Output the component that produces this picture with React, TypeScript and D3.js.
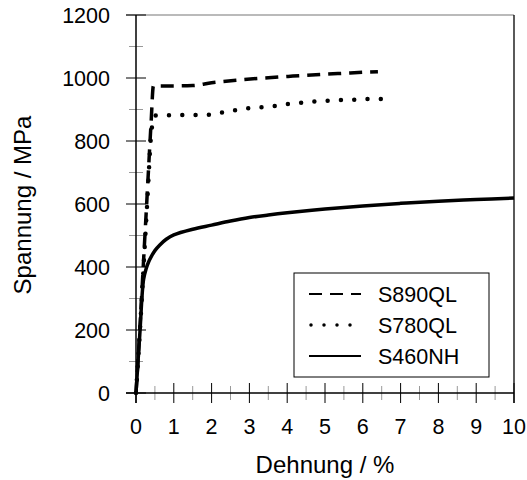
import React from "react";
import * as d3 from "d3";

const xTicks = [0, 1, 2, 3, 4, 5, 6, 7, 8, 9, 10];
const yTicks = [0, 200, 400, 600, 800, 1000, 1200];

const s890Strain = [0, 0.1, 0.2, 0.3, 0.4, 0.46, 1.0, 1.5, 2.0, 2.75, 3.5, 4.15, 5.0, 5.5, 6.0, 6.4];
const s890Stress = [0, 200, 420, 640, 860, 975, 975, 976, 985, 994, 1001, 1006, 1012, 1015, 1018, 1020];

const s780Strain = [0, 0.1, 0.2, 0.3, 0.4, 0.45, 0.5, 1.0, 1.9, 2.27, 2.62, 2.96, 3.32, 3.65, 4.0, 4.34, 4.7, 5.08, 5.43, 5.8, 6.1, 6.48];
const s780Stress = [0, 190, 400, 610, 820, 865, 881, 882, 883, 890, 898, 904, 907, 911, 917, 921, 925, 928, 930, 931, 933, 933];

const s460Strain = [0, 0.1, 0.2, 0.27, 0.33, 0.4, 0.5, 0.63, 0.8, 1.0, 1.5, 2.0, 2.5, 3.0, 3.5, 4.0, 5.0, 6.0, 7.0, 8.0, 9.0, 10.0];
const s460Stress = [0, 185, 360, 395, 415, 432, 452, 470, 488, 502, 520, 533, 546, 557, 565, 572, 584, 594, 602, 609, 614, 619];

const seriesNames = ["S890QL", "S780QL", "S460NH"];

const FONT = "'Liberation Sans', Arial, Helvetica, sans-serif";

export default function App() {
  const x = d3.scaleLinear().domain([0, 10]).range([136, 514]);
  const y = d3.scaleLinear().domain([0, 1200]).range([393, 15]);

  const mk = (xs: number[], ys: number[], curve: d3.CurveFactory) =>
    d3
      .line<number>()
      .x((_, i) => x(xs[i]))
      .y((_, i) => y(ys[i]))
      .curve(curve)(xs) as string;

  const series = [
    { name: seriesNames[0], d: mk(s890Strain, s890Stress, d3.curveMonotoneX), dash: "13,8", w: 3.5, cap: "butt", ldash: "13,8", lw: 2.2 },
    { name: seriesNames[1], d: mk(s780Strain, s780Stress, d3.curveMonotoneX), dash: "0,13.3", w: 4.5, cap: "round", ldash: "0,13", lw: 3.5 },
    { name: seriesNames[2], d: mk(s460Strain, s460Stress, d3.curveCatmullRom.alpha(0.5)), dash: "none", w: 3.5, cap: "butt", ldash: "none", lw: 2 },
  ];

  const xMinor = d3.range(0.5, 10, 1);
  const yMinor = d3.range(100, 1200, 200);

  return (
    <svg
      width={527}
      height={480}
      style={{ position: "absolute", left: 0, top: 0, background: "#fff" }}
      fontFamily={FONT}
    >
      <line x1={126} x2={514} y1={y(1200)} y2={y(1200)} stroke="#777" strokeWidth={1.2} />
      <line x1={514} x2={514} y1={y(1200)} y2={403} stroke="#000" strokeWidth={1.3} />

      {yMinor.map((v) => (
        <line key={"ym" + v} x1={129} x2={143} y1={y(v)} y2={y(v)} stroke="#999" strokeWidth={1} />
      ))}
      {xMinor.map((v) => (
        <line key={"xm" + v} x1={x(v)} x2={x(v)} y1={386} y2={400} stroke="#999" strokeWidth={1} />
      ))}
      {yTicks.map((v) => (
        <line key={"yM" + v} x1={126} x2={146} y1={y(v)} y2={y(v)} stroke="#000" strokeWidth={1} />
      ))}
      {xTicks.map((v) => (
        <line key={"xM" + v} x1={x(v)} x2={x(v)} y1={383} y2={403} stroke="#000" strokeWidth={1} />
      ))}

      <line x1={x(0)} x2={x(0)} y1={y(1200)} y2={403} stroke="#000" strokeWidth={1.5} />
      <line x1={126} x2={514} y1={y(0)} y2={y(0)} stroke="#000" strokeWidth={1.5} />

      {yTicks.map((v) => (
        <text key={"yl" + v} x={110} y={y(v)} dy="0.36em" textAnchor="end" fontSize={21.5} fill="#000">
          {v}
        </text>
      ))}
      {xTicks.map((v) => (
        <text key={"xl" + v} x={x(v)} y={434} textAnchor="middle" fontSize={21.5} fill="#000">
          {v}
        </text>
      ))}

      <text x={325} y={473} textAnchor="middle" fontSize={24} fill="#000">
        Dehnung / %
      </text>
      <text transform="translate(31,205) rotate(-90)" textAnchor="middle" fontSize={24} fill="#000">
        Spannung / MPa
      </text>

      {series.map((s) => (
        <path
          key={s.name}
          d={s.d}
          fill="none"
          stroke="#000"
          strokeWidth={s.w}
          strokeDasharray={s.dash}
          strokeLinecap={s.cap as any}
          strokeLinejoin="round"
        />
      ))}

      <rect x={294} y={273} width={195} height={104} fill="#fff" stroke="#000" strokeWidth={1} />
      {series.map((s, i) => {
        const cy = 294 + i * 31;
        return (
          <g key={"lg" + s.name}>
            <line
              x1={s.cap === "round" ? 311 : 309}
              x2={361}
              y1={cy}
              y2={cy}
              stroke="#000"
              strokeWidth={s.lw}
              strokeDasharray={s.ldash}
              strokeLinecap={s.cap as any}
            />
            <text x={378} y={cy} dy="0.36em" fontSize={21.5} fill="#000">
              {s.name}
            </text>
          </g>
        );
      })}
    </svg>
  );
}
